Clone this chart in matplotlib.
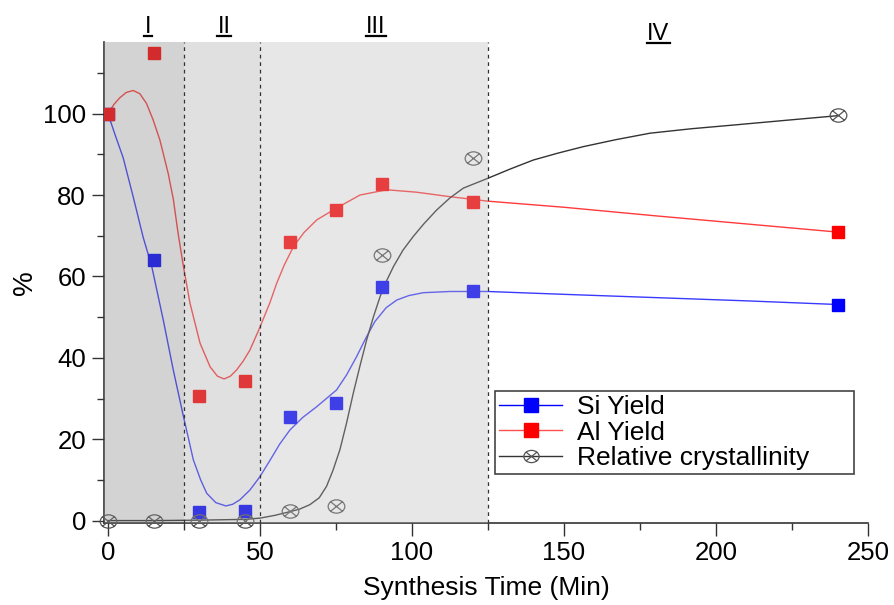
import numpy as np
import matplotlib
matplotlib.use('Agg')
import matplotlib.pyplot as plt
from matplotlib.lines import Line2D
from matplotlib.path import Path
from matplotlib.transforms import blended_transform_factory

plt.rcParams['font.family'] = ['Liberation Sans', 'DejaVu Sans']

# measured points
time_pts = [0, 15, 30, 45, 60, 75, 90, 120, 240]
si_yield = [100, 64, 2.1, 2.3, 25.5, 29, 57.3, 56.4, 53.1]
al_yield = [100, 114.8, 30.6, 34.2, 68.4, 76.3, 82.6, 78.4, 70.9]
crystallinity = [0, 0, 0, 0, 2.4, 3.5, 65.2, 89, 99.6]

# fitted curves
al_fit_x = [0, 2, 3.9, 6, 8.3, 10.5, 12.7, 14.9, 17.1, 19.8, 21.5, 23.1, 24.6, 27, 30.3, 33.6,
            36, 38.2, 40.3, 42.3, 44.5, 46.7, 50, 53.3, 55.5, 58, 61, 64.5, 68.7, 75.2, 82.9,
            91.7, 101.5, 112.5, 124.9, 150, 180, 210, 240]
al_fit_y = [100, 102.3, 103.9, 105.2, 105.7, 104.9, 102.5, 98.4, 93.5, 85.4, 79, 70.5, 63.5, 53.4,
            43.6, 37.8, 35.5, 34.8, 35.5, 37, 39.2, 41.9, 47.5, 53.6, 58.3, 62.8, 67.3, 70.8, 73.9,
            76.8, 80, 81.3, 80.7, 79.6, 78.5, 77.0, 74.9, 72.9, 70.9]

si_fit_x = [0, 2.5, 5, 8.3, 11.6, 14.4, 18.2, 21.5, 24.6, 28.1, 30.5, 32.5, 35.5, 38.8, 41, 43.4,
            46.7, 50, 53.3, 56.5, 59.9, 64, 68.7, 75.2, 78.5, 81.8, 84.8, 87.8, 91.5, 95, 99,
            103.7, 112.5, 124.9, 150, 180, 210, 240]
si_fit_y = [100, 94.5, 89.2, 79.6, 69.6, 62.5, 49.3, 37, 26.4, 14.9, 10, 6.7, 4.4, 3.6, 4.0, 5.1,
            7.5, 10.8, 14.8, 18.8, 22.3, 25.3, 28, 32.1, 35.8, 40.3, 44.8, 48.9, 52.3, 54.2, 55.3,
            56, 56.3, 56.3, 55.6, 54.8, 54, 53.1]

cr_fit_x = [0, 15, 30, 45, 50, 55, 59.9, 63, 66.4, 69.5, 71.9, 74, 76.3, 78.5, 80.7, 83, 85.1,
            87.3, 89.5, 91.7, 93.9, 97, 100.4, 104, 108.1, 112.5, 116.9, 124.9, 132, 139.9, 148,
            156.4, 167, 178.3, 192, 205.7, 222, 240]
cr_fit_y = [0, 0, 0.1, 0.3, 0.6, 1.3, 2.2, 2.8, 3.9, 5.6, 8.4, 12.3, 17.4, 24, 31.3, 38.3, 44.4,
            50, 55, 59, 62.4, 66.4, 69.8, 73, 76.3, 79.3, 81.7, 84.1, 86.3, 88.6, 90.3, 91.9, 93.6,
            95.2, 96.3, 97.2, 98.3, 99.5]

stage_edges = [25, 50, 125]
stage_colors = ['#7f7f7f', '#a6a6a6', '#b9b9b9']
stage_names = ['I', 'II', 'III', 'IV']
stage_label_x = [13.2, 38.3, 88.2, 181]

# circle with a cross, slightly wider than tall
circ = Path.unit_circle()
cv = circ.vertices * [1.25, 1.0]
d = 0.707
cross_v = np.array([[-1.25 * d, -d], [1.25 * d, d], [-1.25 * d, d], [1.25 * d, -d]])
otimes = Path(np.vstack([cv, cross_v]),
              np.concatenate([circ.codes, [Path.MOVETO, Path.LINETO, Path.MOVETO, Path.LINETO]]))

fig = plt.figure(figsize=(8.94, 6.05), dpi=100)
ax = fig.add_axes([0.1163, 0.1355, 0.8546, 0.795])
x0, x1 = -1.3, 250
ax.set_xlim(x0, x1)
ax.set_ylim(-0.6, 117.6)

blue = '#0000ff'
red = '#ff0000'
gray = '#555555'

ax.plot(si_fit_x, si_fit_y, color='#3a3aff', lw=1.0, zorder=2)
ax.plot(al_fit_x, al_fit_y, color='#ff3a3a', lw=1.0, zorder=2)
ax.plot(cr_fit_x, cr_fit_y, color='#333333', lw=1.0, zorder=2)

ax.plot(time_pts, si_yield, ls='none', marker='s', ms=9, color=blue, zorder=3)
ax.plot(time_pts, al_yield, ls='none', marker='s', ms=9, color=red, zorder=3)
ax.plot(time_pts, crystallinity, ls='none', marker=otimes, ms=12, markerfacecolor='none',
        markeredgecolor=gray, markeredgewidth=0.9, zorder=3, clip_on=False)

# stage shading drawn as a translucent overlay
left = x0
for edge, c in zip(stage_edges, stage_colors):
    ax.axvspan(left, edge, color=c, alpha=0.34, lw=0, zorder=4)
    ax.axvline(edge, color='#333333', lw=0.9, ls=(0, (3, 3)), zorder=5)
    left = edge

for s in ['top', 'right']:
    ax.spines[s].set_visible(False)
for s in ['left', 'bottom']:
    ax.spines[s].set_color('#333333')
    ax.spines[s].set_linewidth(1.2)

ax.set_xticks([0, 50, 100, 150, 200, 250])
ax.set_xticks([25, 75, 125, 175, 225], minor=True)
ax.set_yticks([0, 20, 40, 60, 80, 100])
ax.set_yticks([10, 30, 50, 70, 90, 110], minor=True)
ax.tick_params(which='major', length=9, width=1, color='#333333', labelsize=18.5, pad=4)
ax.tick_params(which='minor', length=5, width=1, color='#333333')

ax.set_xlabel('Synthesis Time (Min)', fontsize=19, labelpad=8)
ax.set_ylabel('%', fontsize=20, labelpad=3.5)

handles = [
    Line2D([], [], color=blue, lw=1.0, marker='s', ms=10),
    Line2D([], [], color='#ff5050', lw=1.0, marker='s', ms=10, markerfacecolor=red, markeredgecolor=red),
    Line2D([], [], color='#333333', lw=1.0, marker=otimes, ms=11, markeredgewidth=0.9,
           markerfacecolor='none', markeredgecolor=gray),
]
leg = ax.legend(handles, ['Si Yield', 'Al Yield', 'Relative crystallinity'],
                loc='lower left', bbox_to_anchor=(0.512, 0.102, 0.47, 0.179), mode='expand',
                borderaxespad=0, fontsize=19, handlelength=2.4, handletextpad=0.55,
                labelspacing=0.05, borderpad=0.15, fancybox=False, framealpha=1)
leg.get_frame().set_edgecolor('#444444')
leg.get_frame().set_linewidth(1.2)
leg.set_zorder(10)

# stage labels, underlined
trans = blended_transform_factory(ax.transData, ax.transAxes)
texts = []
for name, lx in zip(stage_names, stage_label_x):
    ty = 1.004 if name == 'IV' else 1.0187
    t = ax.text(lx, ty, name, transform=trans, ha='center', va='baseline', fontsize=17)
    texts.append(t)

fig.canvas.draw()
r = fig.canvas.get_renderer()
inv = fig.transFigure.inverted()
for t in texts:
    bb = t.get_window_extent(r)
    bx, by = t.get_transform().transform(t.get_position())
    (fx0, fy), (fx1, _) = inv.transform([(bb.x0 - 0.5, by - 2.5), (bb.x1 + 0.5, by - 2.5)])
    fig.add_artist(Line2D([fx0, fx1], [fy, fy], color='black', lw=1.6, transform=fig.transFigure))

fig.savefig('out.png', dpi=100)
